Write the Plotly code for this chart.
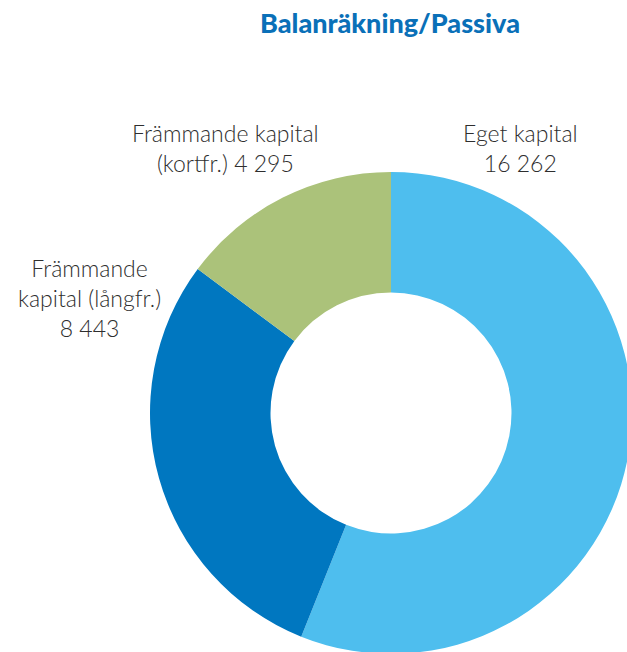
import plotly.graph_objects as go

# Data
categories = ["Eget kapital", "Främmande kapital (långfr.)", "Främmande kapital (kortfr.)"]
values = [16262, 8443, 4295]
label_lines = [
    ["Eget kapital", "{v}"],
    ["Främmande", "kapital (långfr.)", "{v}"],
    ["Främmande kapital", "(kortfr.) {v}"],
]
colors = ["#4EBEEE", "#0077C0", "#ABC27A"]
title_text = "Balanräkning/Passiva"

# figure slightly larger than window so the donut is clipped at right/bottom like the reference
W, H = 640, 662


def fmt(v):
    return f"{v:,}".replace(",", " ")


cx, cy, r = 391, 413, 241  # pixel layout of donut
fig = go.Figure(
    go.Pie(
        labels=categories,
        values=values,
        sort=False,
        direction="clockwise",
        rotation=0,
        hole=0.5,
        marker=dict(colors=colors, line=dict(width=0)),
        textinfo="none",
        hoverinfo="label+value",
        showlegend=False,
        domain=dict(x=[(cx - r) / W, (cx + r) / W], y=[1 - (cy + r) / H, 1 - (cy - r) / H]),
    )
)

# label positions (pixel centers)
label_pos = [(520, 148), (89, 298), (225, 148)]
for lines, v, (x, y) in zip(label_lines, values, label_pos):
    txt = "<br>".join(l.format(v=fmt(v)) for l in lines)
    fig.add_annotation(
        x=x / W, y=1 - y / H, xref="paper", yref="paper",
        text=txt, showarrow=False, xanchor="center", yanchor="middle",
        font=dict(family="Lato", size=23, color="#2e2e2e", weight=300),
        align="center",
    )

fig.add_annotation(
    x=390 / W, y=1 - 22 / H, xref="paper", yref="paper",
    text=title_text, showarrow=False, xanchor="center", yanchor="middle",
    font=dict(family="Lato", size=27, color="#0A70B8", weight=900),
)

fig.update_layout(
    width=W, height=H,
    margin=dict(l=0, r=0, t=0, b=0),
    paper_bgcolor="white",
    plot_bgcolor="white",
)

fig.write_html(
    "out.html",
    config={"displayModeBar": False},
    post_script="document.body.style.margin='0';document.body.style.overflow='hidden';",
)
